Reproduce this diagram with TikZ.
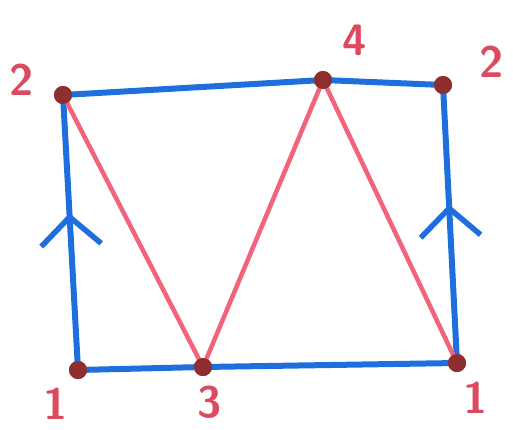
\documentclass[tikz,border=0pt]{standalone}
\usepackage{tikz}
\usetikzlibrary{arrows.meta,decorations.markings}
\definecolor{Edge}{HTML}{1E6FDC}
\definecolor{Diag}{HTML}{F2637C}
\definecolor{Lbl}{HTML}{DB4A5E}
\definecolor{Vtx}{HTML}{8E2E2E}

\begin{document}
\begin{tikzpicture}[x=1pt,y=-1pt,line cap=round,line join=round,
  vtx/.style={circle,fill=Vtx,inner sep=0pt,minimum size=18pt},
  lbl/.style={text=Lbl,font=\fontsize{44}{44}\selectfont\sffamily\bfseries},
  side/.style={Edge,line width=6pt},
  diag/.style={Diag,line width=4.5pt},
  glue/.style={side,postaction={decorate,decoration={markings,
    mark=at position 0.57 with {\arrow{Straight Barb[length=28pt,width=60pt,line width=5.5pt]}}}}}]
  \useasboundingbox (0,0) rectangle (513,429);
  % corners and middle points
  \node[vtx] (tl) at (63,95) {};
  \node[vtx] (tm) at (323,80) {};
  \node[vtx] (tr) at (443,85) {};
  \node[vtx] (bl) at (78,370) {};
  \node[vtx] (bm) at (203,367) {};
  \node[vtx] (br) at (457,363) {};
  % labels
  \node[lbl] (ltl) at (22,80) {2};
  \node[lbl] (ltm) at (355,40) {4};
  \node[lbl] (ltr) at (492,62) {2};
  \node[lbl] (lbl1) at (56,404) {1};
  \node[lbl] (lbm) at (210,402) {3};
  \node[lbl] (lbr) at (476,398) {1};
  % blue sides
  \draw[side] (tl.center) -- (tm.center) -- (tr.center);
  \draw[side] (bl.center) -- (bm.center) -- (br.center);
  \draw[glue] (bl.center) -- (tl.center);
  \draw[glue] (br.center) -- (tr.center);
  % red diagonals
  \draw[diag] (tl.center) -- (bm.center) -- (tm.center) -- (br.center);
  % dots on top
  \foreach \v in {tl,tm,tr,bl,bm,br}
    \fill[Vtx] (\v) circle (9pt);
\end{tikzpicture}
\end{document}
